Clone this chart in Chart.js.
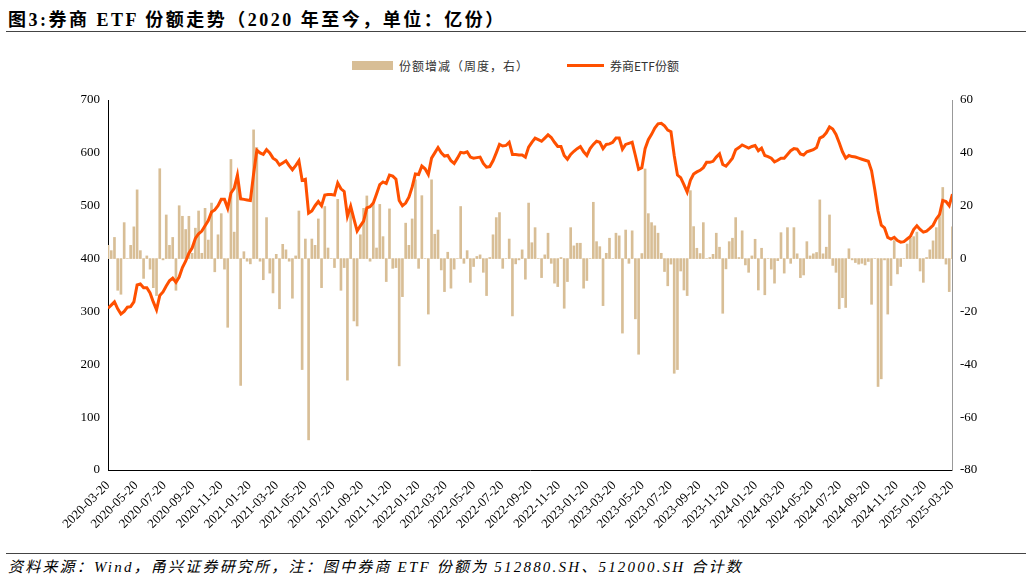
<!DOCTYPE html>
<html><head><meta charset="utf-8">
<script src="https://cdn.jsdelivr.net/npm/chart.js@4"></script>
<style>
body{margin:0;width:1032px;height:585px;background:#fff;position:relative;overflow:hidden;font-family:"Liberation Serif","Noto Sans CJK SC",serif}
#title{position:absolute;left:8px;top:5px;font-size:18px;letter-spacing:2.5px;font-weight:bold;color:#000}
#tl{position:absolute;left:6px;right:6px;top:31px;border-top:1.5px solid #444}
#bl{position:absolute;left:6px;right:6px;top:553px;border-top:1.5px solid #444}
#src{position:absolute;left:8px;top:555px;font-size:15px;letter-spacing:2.2px;font-style:italic;color:#000}
#legend{position:absolute;top:55px;left:352px;font-family:"Noto Sans CJK SC",sans-serif;font-size:12px;color:#333;white-space:nowrap}
#legend span{display:inline-block;vertical-align:middle}
#cv{position:absolute;left:0;top:45px}
</style></head><body>
<div id="title">图3:券商 ETF 份额走势（2020 年至今，单位：亿份）</div>
<div id="tl"></div>
<div id="legend"><span style="width:41px;height:9px;background:#D8BE96;margin-right:6px"></span><span style="letter-spacing:1px">份额增减（周度，右）</span><span style="width:37px;height:3px;background:#FF5000;margin:0 6px 0 38px"></span><span>券商ETF份额</span></div>
<canvas id="cv" width="1032" height="500"></canvas>
<div id="bl"></div>
<div id="src">资料来源：Wind，甬兴证券研究所，注：图中券商 ETF 份额为 512880.SH、512000.SH 合计数</div>
<script>
const startDate = "2020-03-20";
const tickLabels = ["2020-03-20","2020-05-20","2020-07-20","2020-09-20","2020-11-20","2021-01-20","2021-03-20","2021-05-20","2021-07-20","2021-09-20","2021-11-20","2022-01-20","2022-03-20","2022-05-20","2022-07-20","2022-09-20","2022-11-20","2023-01-20","2023-03-20","2023-05-20","2023-07-20","2023-09-20","2023-11-20","2024-01-20","2024-03-20","2024-05-20","2024-07-20","2024-09-20","2024-11-20","2025-01-20","2025-03-20"];
const shares = [306,312,318,305,295,300,308,309,318,350,352,345,345,335,318,303,330,337,348,358,363,355,365,383,395,410,420,438,447,452,462,472,488,492,500,512,512,495,524,533,558,513,512,511,510,560,605,600,597,606,600,590,586,577,581,585,576,568,576,585,548,550,486,490,500,508,500,520,521,521,520,543,532,527,480,499,475,452,462,471,496,498,505,522,540,545,542,558,556,550,510,500,505,516,535,560,559,575,570,559,590,600,610,600,594,595,585,580,590,601,600,602,592,590,591,592,580,573,574,585,600,616,613,614,620,597,597,596,596,592,611,620,628,625,622,628,634,629,620,612,612,595,588,597,603,608,612,602,595,608,616,622,620,608,616,617,620,628,628,607,616,618,620,595,569,572,608,625,635,647,655,656,651,643,640,595,558,553,540,526,548,560,564,567,572,582,582,584,592,598,578,575,582,590,606,610,615,612,609,612,614,604,609,595,593,590,583,586,590,590,597,604,608,607,598,596,602,604,606,610,628,631,638,649,645,635,619,602,590,595,593,592,590,588,586,584,566,530,490,463,458,440,437,440,434,431,432,437,442,455,462,455,450,452,457,463,475,483,510,508,500,522];
const weeklyChange = [5,3,8,-12,-13.5,13.6,0,5,12,26,3,-7.5,1,-4,-11,-14,34,-0.5,16.5,5,8,-12,20,16,11,16,2,11.5,18,2,19,7,21,-5,9,17,-4,-26,37.5,10,31.7,-48,2.6,-1,-2,48.7,42,-1,-8,15.5,-5.5,-13,1.6,-19,5.4,3.3,-1,-15,1,18,-42,7.4,-68.6,7.4,5,15,-11,
19.7,4,0,-3.4,22.4,-12,-3.4,-46,18,-23.6,-25.5,9,19,23.7,-1,20.5,4,20.5,8.3,-8.7,18.8,-3.7,-3.4,-40.6,-14.4,13.4,5,15,29.8,-3.7,23.8,0,-21,29.8,9.2,10.8,-4.3,-12.5,2.4,-11.2,-4,0,19.7,-1.8,3,-9,-3,0.8,1.4,-5.2,-14,0.4,9,15.5,17.4,-3.7,0,7.4,-21.7,-2,-0.5,3.3,-7.8,21,6,
11.7,0,-7.2,1.4,9.6,-1.8,-9.3,-10.6,0.4,-18.8,-8.7,11.7,4.8,5.8,5.8,-11.2,-8.3,0,21.3,6.4,4.5,-17.8,2,7.7,0,9.6,8.6,-28.2,10.8,-1.8,10.5,-22.8,-36.2,1.9,33.9,17,13.6,12.4,9.6,2,-4.9,-10.3,-2.1,-43.4,-42,-4.7,-11.9,-14,25.7,12.1,3.9,1.9,13.6,0,0.4,1.6,9.6,4.3,-20.7,-3.9,6.4,7.7,15.5,0.4,10.5,-2.4,
-5.2,1,7.3,-11.9,3.9,-13.7,0,-4,-9.3,-0.8,9.8,-5.5,11.7,-1.8,11.7,1.8,-7.2,-6.2,6.4,1,1.8,2.3,22.2,1.8,4.3,16.5,-2.6,-5.2,-19,-14.8,-18.5,3.7,-0.5,-1.5,-2.1,-1.8,-2.4,-1.1,-17.3,0,-48.4,-45.5,-0.5,-21,-10.2,6.8,-5.8,-3,0,5.5,7.7,8.3,10,-4.7,-9,0.4,3.3,6.7,11.7,15.9,26.9,-2.1,-12.5,12];

const DAY = 86400000;
const t0 = Date.parse(startDate + "T00:00:00Z");
const dayOf = s => Math.round((Date.parse(s + "T00:00:00Z") - t0) / DAY);
const lineData = shares.map((v, i) => ({x: i * 7, y: v}));
const barData = weeklyChange.map((v, i) => ({x: i * 7, y: v}));
const tickFont = {family: "Liberation Serif", size: 13};

new Chart(document.getElementById('cv'), {
  data: {datasets: [
    {type: 'line', label: '券商ETF份额', data: lineData, yAxisID: 'y', borderColor: '#FF5000', borderWidth: 3, pointRadius: 0, tension: 0, order: 0},
    {type: 'bar', label: '份额增减（周度，右）', data: barData, yAxisID: 'y1', backgroundColor: '#D8BE96', barThickness: 2, order: 1}
  ]},
  options: {
    responsive: false, animation: false,
    layout: {padding: {top: 55, bottom: 5, left: 0, right: 0}},
    plugins: {legend: {display: false}, tooltip: {enabled: false}},
    scales: {
      x: {type: 'linear', offset: false, min: 0, max: dayOf(tickLabels[tickLabels.length - 1]),
        grid: {display: false, offset: false, drawTicks: true, tickLength: 5, color: '#000'},
        border: {color: '#000'},
        afterBuildTicks: sc => { sc.ticks = tickLabels.map(s => ({value: dayOf(s)})); },
        afterFit: sc => { sc.height = 70; },
        ticks: {autoSkip: false, minRotation: 45, maxRotation: 45, font: tickFont, color: '#000', callback: (v, i) => tickLabels[i]}},
      y: {position: 'left', min: 0, max: 700,
        grid: {display: false, drawTicks: true, tickLength: 5},
        border: {color: '#000'},
        afterFit: sc => { sc.width = 108; },
        ticks: {stepSize: 100, font: tickFont, color: '#000'}},
      y1: {position: 'right', min: -80, max: 60,
        grid: {display: false, drawTicks: true, tickLength: 5},
        border: {color: '#999'},
        afterFit: sc => { sc.width = 80; },
        ticks: {stepSize: 20, font: tickFont, color: '#000'}}
    }
  }
});
</script>
</body></html>
